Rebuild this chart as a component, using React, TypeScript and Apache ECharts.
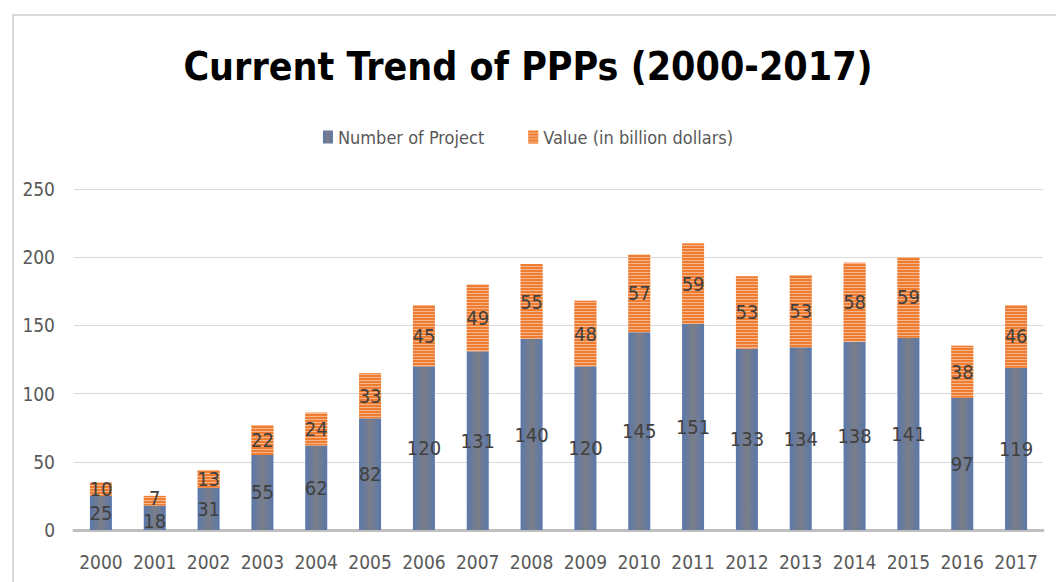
import React, { useEffect, useRef } from "react";
import * as echarts from "echarts";

const years = ["2000","2001","2002","2003","2004","2005","2006","2007","2008","2009","2010","2011","2012","2013","2014","2015","2016","2017"];
const projects = [25, 18, 31, 55, 62, 82, 120, 131, 140, 120, 145, 151, 133, 134, 138, 141, 97, 119];
const values = [10, 7, 13, 22, 24, 33, 45, 49, 55, 48, 57, 59, 53, 53, 58, 59, 38, 46];
const yTicks = [0, 50, 100, 150, 200, 250];

const FONT = "'DejaVu Sans Condensed', 'Liberation Sans', sans-serif";

export default function App() {
  const ref = useRef<HTMLDivElement>(null);
  useEffect(() => {
    if (!ref.current) return;
    const chart = echarts.init(ref.current, undefined, { renderer: "svg" });
    const blue = new echarts.graphic.LinearGradient(0, 0, 1, 0, [
      { offset: 0, color: "#5a78ab" },
      { offset: 0.5, color: "#7b7e88" },
      { offset: 1, color: "#5a78ab" },
    ]);
    const labelStyle = { show: true, position: "inside", fontFamily: FONT, fontSize: 20, lineHeight: 15, color: "#404040" };
    // small segments: nudge labels apart so they do not collide
    const tight = (i: number) => projects[i] + values[i] < 30;
    chart.setOption({
      animation: false,
      backgroundColor: "#ffffff",
      title: {
        text: "Current Trend of PPPs (2000-2017)",
        left: "center",
        top: 42,
        textStyle: { fontFamily: FONT, fontWeight: "bold", fontSize: 39, color: "#000000" },
      },
      legend: {
        top: 123,
        left: "center",
        icon: "rect",
        itemWidth: 10,
        itemHeight: 13,
        itemGap: 44,
        textStyle: { fontFamily: FONT, fontSize: 18, color: "#595959" },
        data: ["Number of Project", "Value (in billion dollars)"],
      },
      grid: { left: 74, right: 13, top: 189, bottom: 52 },
      xAxis: {
        type: "category",
        data: years,
        axisLine: { lineStyle: { color: "#bfbfbf", width: 3 } },
        axisTick: { show: false },
        axisLabel: { fontFamily: FONT, fontSize: 19, color: "#595959", margin: 22, interval: 0 },
      },
      yAxis: {
        type: "value",
        min: yTicks[0],
        max: yTicks[yTicks.length - 1],
        interval: 50,
        axisLine: { show: false },
        axisTick: { show: false },
        splitLine: { lineStyle: { color: "#d9d9d9", width: 1 } },
        axisLabel: { fontFamily: FONT, fontSize: 19, color: "#595959", margin: 19 },
      },
      series: [
        {
          name: "Number of Project",
          type: "bar",
          stack: "total",
          data: projects.map((v, i) => (tight(i) ? { value: v, label: { offset: [0, 3] } } : v)),
          barWidth: 22,
          itemStyle: { color: blue },
          label: labelStyle,
        },
        {
          name: "Value (in billion dollars)",
          type: "bar",
          stack: "total",
          data: values.map((v, i) => (tight(i) ? { value: v, label: { offset: [0, -3] } } : v)),
          barWidth: 22,
          itemStyle: {
            color: "#f6b48a",
            decal: {
              symbol: "rect",
              symbolSize: 1,
              dashArrayX: [1, 0],
              dashArrayY: [2, 1],
              rotation: 0,
              color: "#ee7d31",
            },
          },
          label: labelStyle,
        },
      ],
      graphic: [
        {
          type: "rect",
          shape: { x: 13, y: 15, width: 1100, height: 700 },
          style: { fill: "none", stroke: "#d9d9d9", lineWidth: 2 },
          silent: true,
        },
      ],
    });
    return () => chart.dispose();
  }, []);
  return (
    <div
      ref={ref}
      style={{ position: "fixed", left: 0, top: 0, width: 1056, height: 582 }}
    />
  );
}
